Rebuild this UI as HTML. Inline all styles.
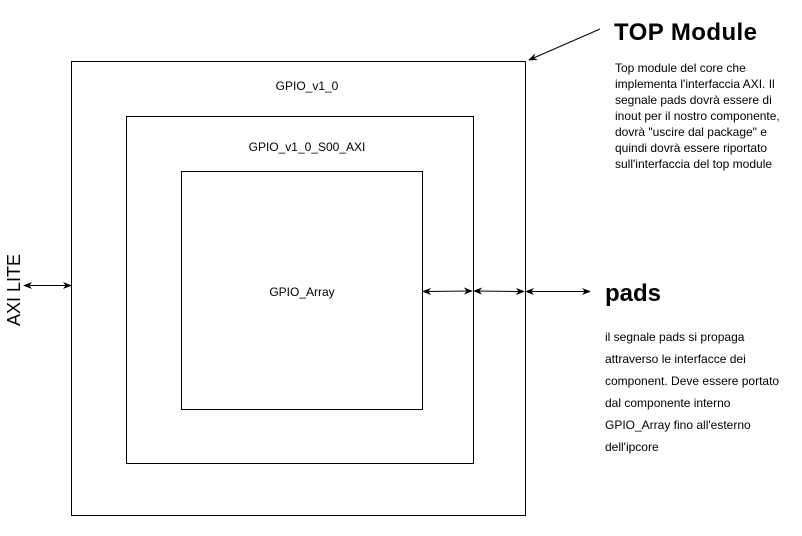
<!DOCTYPE html>
<html><head><meta charset="utf-8"><style>
html,body{margin:0;padding:0;background:#fff;}
</style></head><body>
<svg width="802" height="531" xmlns="http://www.w3.org/2000/svg" font-family="'Liberation Sans', Arial, sans-serif">
<defs>
<marker id="a" viewBox="0 0 10 10" refX="9" refY="5" markerWidth="9" markerHeight="9" orient="auto-start-reverse">
<path d="M0,1 L10,5 L0,9 L3,5 z" fill="#000"/></marker>
</defs>
<rect x="71.5" y="61.5" width="454" height="454" fill="none" stroke="#000"/>
<rect x="126.5" y="116.5" width="347" height="347" fill="none" stroke="#000"/>
<rect x="181.5" y="171.5" width="241" height="238" fill="none" stroke="#000"/>
<text x="307" y="90" font-size="12" text-anchor="middle">GPIO_v1_0</text>
<text x="307" y="151" font-size="12" text-anchor="middle">GPIO_v1_0_S00_AXI</text>
<text x="302" y="296" font-size="12" text-anchor="middle">GPIO_Array</text>
<g stroke="#000" stroke-width="1" marker-start="url(#a)" marker-end="url(#a)">
<line x1="423" y1="291.5" x2="472" y2="291"/>
<line x1="474" y1="291" x2="524" y2="291.5"/>
<line x1="526" y1="291.5" x2="590" y2="291.5"/>
<line x1="24" y1="285.5" x2="71" y2="285.5"/>
</g>
<line x1="600" y1="29" x2="529" y2="60" stroke="#000" marker-end="url(#a)"/>
<text x="20" y="290" font-size="18" text-anchor="middle" transform="rotate(-90 20 290)">AXI LITE</text>
<text x="614" y="40" font-size="24" font-weight="bold" textLength="143">TOP Module</text>
<g font-size="12">
<text x="615" y="72">Top module del core che</text>
<text x="615" y="88">implementa l'interfaccia AXI. Il</text>
<text x="615" y="104">segnale pads dovrà essere di</text>
<text x="615" y="120">inout per il nostro componente,</text>
<text x="615" y="136">dovrà "uscire dal package" e</text>
<text x="615" y="152">quindi dovrà essere riportato</text>
<text x="615" y="168">sull'interfaccia del top module</text>
</g>
<text x="605" y="301" font-size="24" font-weight="bold">pads</text>
<g font-size="12">
<text x="605" y="341">il segnale pads si propaga</text>
<text x="605" y="363">attraverso le interfacce dei</text>
<text x="605" y="385">component. Deve essere portato</text>
<text x="605" y="407">dal componente interno</text>
<text x="605" y="429">GPIO_Array fino all'esterno</text>
<text x="605" y="451">dell'ipcore</text>
</g>
</svg>
</body></html>
